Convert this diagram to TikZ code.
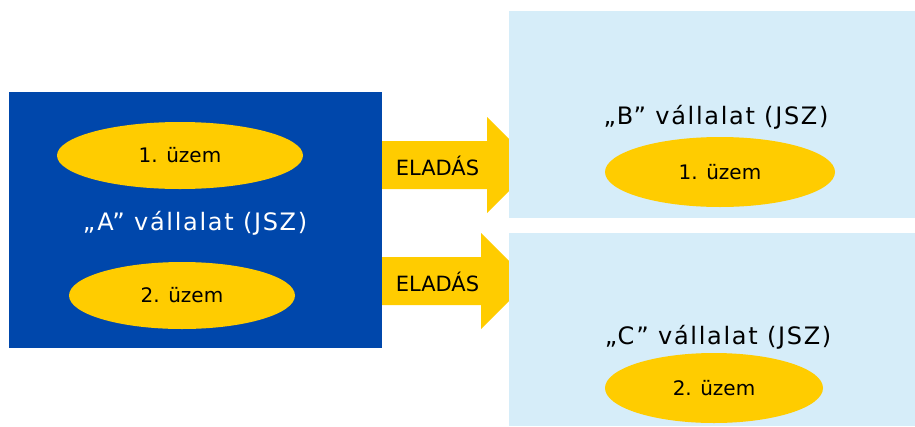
\documentclass[tikz,border=0pt]{standalone}
\usepackage{fontspec}
\setmainfont{DejaVu Sans}
\newfontfamily\spacedfont[LetterSpace=7]{DejaVu Sans}
\usetikzlibrary{shapes.geometric}
\definecolor{darkblue}{HTML}{0047AB}
\definecolor{gold}{HTML}{FFCC00}
\definecolor{paleblue}{HTML}{D6EDF9}
\tikzset{
  plant/.style={ellipse, fill=gold, inner sep=0pt, font=\fontsize{20}{24}\selectfont, text=black},
  company/.style={font=\spacedfont\fontsize{24}{28}\selectfont, inner sep=0pt},
  salebox/.style={fill=gold},
  salelabel/.style={font=\fontsize{21}{25}\selectfont, text=black, inner sep=0pt}
}
\begin{document}
\begin{tikzpicture}[x=1pt,y=-1pt]
\useasboundingbox (0,0) rectangle (915,426);
% company A
\fill[darkblue] (9,92) rectangle (382,348);
\node[plant, minimum width=246, minimum height=67] (a1) at (180,155.5) {1. üzem};
\node[plant, minimum width=226, minimum height=67] (a2) at (182,295.5) {2. üzem};
\node[company, text=white] (a) at (195,223) {„A” vállalat (JSZ)};
% arrows
\fill[salebox] (382,141) -- (487,141) -- (487,117) -- (535,165) -- (487,213) -- (487,189) -- (382,189) -- cycle;
\fill[salebox] (382,257) -- (481,257) -- (481,233) -- (529,281) -- (481,329) -- (481,305) -- (382,305) -- cycle;
\node[salelabel] (s1) at (437.5,166) {ELADÁS};
\node[salelabel] (s2) at (437.5,282) {ELADÁS};
% company B and C
\fill[paleblue] (509,11) rectangle (915,218);
\fill[paleblue] (509,233) rectangle (915,426);
\node[company, text=black] (b) at (716,117) {„B” vállalat (JSZ)};
\node[plant, minimum width=230, minimum height=70] (b1) at (720,172) {1. üzem};
\node[company, text=black] (c) at (718,337) {„C” vállalat (JSZ)};
\node[plant, minimum width=218, minimum height=70] (c1) at (714,388) {2. üzem};
\end{tikzpicture}
\end{document}
